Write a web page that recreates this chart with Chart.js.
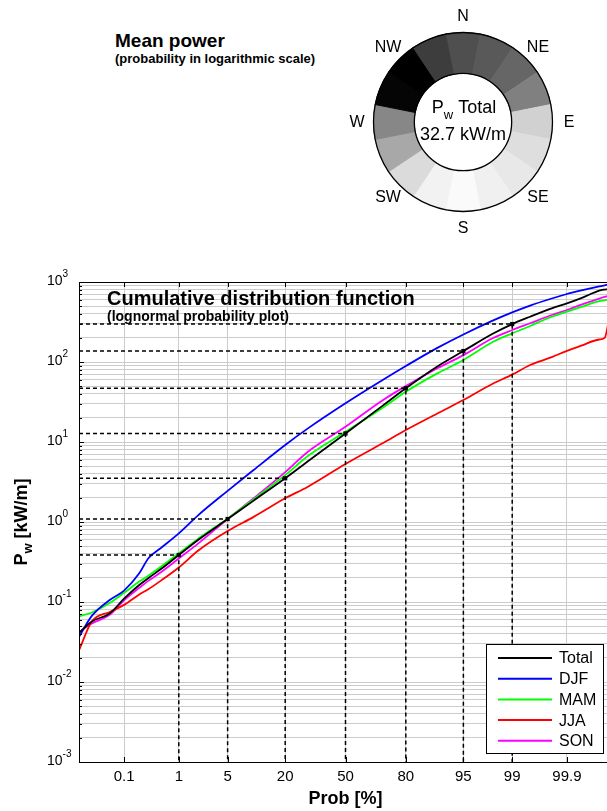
<!DOCTYPE html>
<html>
<head>
<meta charset="utf-8">
<script src="https://cdn.jsdelivr.net/npm/chart.js@4.4.1/dist/chart.umd.min.js"></script>
<style>
  html, body { margin: 0; padding: 0; background: #fff; overflow: hidden; width: 607px; height: 811px; }
  #cdf { position: absolute; left: 0; top: 0; }
  #rose { position: absolute; left: 343px; top: 2px; }
  .head { position: absolute; left: 115px; line-height: 1; font-family: "Liberation Sans", Arial, sans-serif; font-weight: bold; color: #000; white-space: nowrap; }
</style>
</head>
<body>
<div class="head" style="top:31px;font-size:19px">Mean power</div>
<div class="head" style="top:52px;font-size:13px">(probability in logarithmic scale)</div>
<canvas id="cdf" width="616" height="811"></canvas>
<canvas id="rose" width="240" height="240"></canvas>
<script>
// exceedance grid (%) shared by all seasons
const PROB = [0.01, 0.02, 0.05, 0.1, 0.2, 0.3, 0.5, 1, 2, 5, 10, 20, 30, 50, 70, 80, 90, 95, 98, 99, 99.5, 99.8, 99.9, 99.95, 99.98, 99.985, 99.99];

// wave power, kW/m
const TOTAL = [0.041, 0.057, 0.072, 0.11, 0.163, 0.2, 0.258, 0.387, 0.6, 1.09, 1.85, 3.52, 5.74, 12.8, 28.7, 46.9, 88, 137, 225, 298, 368, 468, 540, 628, 780, 805, 830];
const DJF = [0.0365, 0.067, 0.106, 0.139, 0.229, 0.355, 0.473, 0.72, 1.22, 2.45, 4.47, 9.17, 14.8, 30.5, 60, 89, 150, 221, 329, 417, 507, 622, 708, 785, 881, 910, 944];
const MAM = [0.066, 0.074, 0.097, 0.13, 0.18, 0.215, 0.276, 0.406, 0.62, 1.1, 1.93, 3.85, 6.68, 13.4, 27, 42.5, 72, 106, 178, 228, 282, 368, 426, 490, 575, 590, 615];
const JJA = [0.025, 0.057, 0.075, 0.092, 0.124, 0.145, 0.185, 0.27, 0.44, 0.77, 1.16, 1.98, 2.76, 5.3, 9.7, 14.1, 22.7, 33.5, 53.5, 69.5, 91.7, 115, 138, 160, 191, 200, 600];
const SON = [0.042, 0.054, 0.069, 0.105, 0.15, 0.185, 0.235, 0.35, 0.54, 1.09, 1.98, 4.2, 7.57, 15.5, 33.5, 50, 83.5, 122, 198, 251, 305, 387, 447, 520, 620, 650, 690];

// dashed guides on the Total curve
const REF_PROB = [1, 5, 20, 50, 80, 95, 99];
const REF_POWER = [0.387, 1.09, 3.52, 12.8, 46.9, 137, 298];

const PROB_TICKS = [0.1, 1, 5, 20, 50, 80, 95, 99, 99.9];
const POWER_DECADES = [-3, -2, -1, 0, 1, 2, 3];

// rose: 16 sectors, darkness of each (0 white .. 1 black)
const ROSE_SECTORS = ['N', 'NNE', 'NE', 'ENE', 'E', 'ESE', 'SE', 'SSE', 'S', 'SSW', 'SW', 'WSW', 'W', 'WNW', 'NW', 'NNW'];
const ROSE_LEVEL = [0.69, 0.65, 0.6, 0.5, 0.18, 0.13, 0.09, 0.06, 0.02, 0.05, 0.14, 0.34, 0.47, 0.98, 1.0, 0.76];
const ROSE_LABELS = ['N', 'NE', 'E', 'SE', 'S', 'SW', 'W', 'NW'];
const MEAN_POWER = 32.7;

const FONT = '"Liberation Sans", Arial, sans-serif';
Chart.defaults.font.family = FONT;
Chart.defaults.color = '#000';

// inverse normal cdf (Acklam)
function probit(p) {
  const a = [-3.969683028665376e+01, 2.209460984245205e+02, -2.759285104469687e+02, 1.383577518672690e+02, -3.066479806614716e+01, 2.506628277459239e+00];
  const b = [-5.447609879822406e+01, 1.615858368580409e+02, -1.556989798598866e+02, 6.680131188771972e+01, -1.328068155288572e+01];
  const c = [-7.784894002430293e-03, -3.223964580411365e-01, -2.400758277161838e+00, -2.549732539343734e+00, 4.374664141464968e+00, 2.938163982698783e+00];
  const d = [7.784695709041462e-03, 3.224671290700398e-01, 2.445134137142996e+00, 3.754408661907416e+00];
  const lo = 0.02425;
  if (p < lo) {
    const q = Math.sqrt(-2 * Math.log(p));
    return (((((c[0] * q + c[1]) * q + c[2]) * q + c[3]) * q + c[4]) * q + c[5]) / ((((d[0] * q + d[1]) * q + d[2]) * q + d[3]) * q + 1);
  }
  if (p > 1 - lo) {
    const q = Math.sqrt(-2 * Math.log(1 - p));
    return -(((((c[0] * q + c[1]) * q + c[2]) * q + c[3]) * q + c[4]) * q + c[5]) / ((((d[0] * q + d[1]) * q + d[2]) * q + d[3]) * q + 1);
  }
  const q = p - 0.5, r = q * q;
  return (((((a[0] * r + a[1]) * r + a[2]) * r + a[3]) * r + a[4]) * r + a[5]) * q / (((((b[0] * r + b[1]) * r + b[2]) * r + b[3]) * r + b[4]) * r + 1);
}

function normCdf(z) {
  const t = 1 / (1 + 0.3275911 * Math.abs(z) / Math.SQRT2);
  const y = 1 - (((((1.061405429 * t - 1.453152027) * t) + 1.421413741) * t - 0.284496736) * t + 0.254829592) * t * Math.exp(-z * z / 2);
  return z >= 0 ? (1 + y) / 2 : (1 - y) / 2;
}

// normal probability axis, values in percent
class ProbitScale extends Chart.LinearScale {
  determineDataLimits() {
    this.min = this.options.min;
    this.max = this.options.max;
  }
  buildTicks() {
    return PROB_TICKS.map(value => ({ value }));
  }
  configure() {
    super.configure();
    this._zStart = probit(this.min / 100);
    this._zRange = probit(this.max / 100) - this._zStart;
  }
  getPixelForValue(value) {
    return this.getPixelForDecimal((probit(value / 100) - this._zStart) / this._zRange);
  }
  getValueForPixel(pixel) {
    return 100 * normCdf(this._zStart + this.getDecimalForPixel(pixel) * this._zRange);
  }
}
ProbitScale.id = 'probit';
Chart.register(ProbitScale);

const series = [
  { label: 'Total', values: TOTAL, color: '#000000' },
  { label: 'DJF', values: DJF, color: '#0000ff' },
  { label: 'MAM', values: MAM, color: '#00ff00' },
  { label: 'JJA', values: JJA, color: '#ff0000' },
  { label: 'SON', values: SON, color: '#ff00ff' }
];

const yTicks = [];
for (let e = -3; e < 3; e++) {
  for (let k = 1; k <= 9; k++) yTicks.push({ value: k * Math.pow(10, e), major: k === 1 });
}
yTicks.push({ value: 1000, major: true });

const datasets = [];
datasets.push({
  label: 'ref points',
  data: REF_PROB.map((p, i) => ({ x: p, y: REF_POWER[i] })),
  showLine: false,
  pointStyle: 'rect',
  pointRadius: 3,
  pointBorderWidth: 0,
  pointBackgroundColor: '#000'
});
REF_PROB.forEach((p, i) => {
  datasets.push({
    label: 'ref ' + p,
    data: [{ x: PROB[0], y: REF_POWER[i] }, { x: p, y: REF_POWER[i] }, { x: p, y: 0.001 }],
    borderColor: '#000',
    borderWidth: 1.5,
    borderDash: [4, 3],
    pointRadius: 0
  });
});
series.forEach(s => {
  datasets.push({
    label: s.label,
    data: s.values.map((v, i) => ({ x: PROB[i], y: v })),
    borderColor: s.color,
    borderWidth: 1.8,
    cubicInterpolationMode: 'monotone',
    pointRadius: 0
  });
});

function drawSubscripted(ctx, x, y, main, sub, rest, size, subSize, drop, weight) {
  ctx.font = `${weight} ${size}px ${FONT}`;
  const w1 = ctx.measureText(main).width;
  const w3 = ctx.measureText(rest).width;
  ctx.font = `${weight} ${subSize}px ${FONT}`;
  const w2 = ctx.measureText(sub).width;
  let cx = x - (w1 + w2 + w3) / 2;
  ctx.textAlign = 'left';
  ctx.font = `${weight} ${size}px ${FONT}`;
  ctx.fillText(main, cx, y);
  cx += w1;
  ctx.font = `${weight} ${subSize}px ${FONT}`;
  ctx.fillText(sub, cx, y + drop);
  cx += w2;
  ctx.font = `${weight} ${size}px ${FONT}`;
  ctx.fillText(rest, cx, y);
}

const cdfDecor = {
  id: 'cdfDecor',
  afterDraw(chart) {
    const { ctx, chartArea: a, scales: { x, y } } = chart;
    ctx.save();
    ctx.strokeStyle = '#000';
    ctx.lineWidth = 1;
    ctx.strokeRect(Math.round(a.left) + 0.5, Math.round(a.top) + 0.5, Math.round(a.right - a.left), Math.round(a.bottom - a.top));

    ctx.beginPath();
    y.ticks.forEach(t => {
      const py = Math.round(y.getPixelForValue(t.value)) + 0.5;
      ctx.moveTo(a.left, py);
      ctx.lineTo(a.left + (t.major ? 5 : 3), py);
    });
    x.ticks.forEach(t => {
      const px = Math.round(x.getPixelForValue(t.value)) + 0.5;
      ctx.moveTo(px, a.bottom);
      ctx.lineTo(px, a.bottom - 5);
      ctx.moveTo(px, a.top);
      ctx.lineTo(px, a.top + 5);
    });
    ctx.stroke();

    // decade labels 10^n
    ctx.fillStyle = '#000';
    ctx.textAlign = 'left';
    ctx.textBaseline = 'middle';
    POWER_DECADES.forEach(e => {
      const py = y.getPixelForValue(Math.pow(10, e));
      ctx.font = `14px ${FONT}`;
      ctx.fillText('10', 47, py - 1);
      const w = ctx.measureText('10').width;
      ctx.font = `10px ${FONT}`;
      ctx.fillText(String(e), 47 + w, py - 8);
    });

    // y axis title
    ctx.save();
    ctx.translate(27, (a.top + a.bottom) / 2);
    ctx.rotate(-Math.PI / 2);
    ctx.textBaseline = 'alphabetic';
    drawSubscripted(ctx, 0, 0, 'P', 'w', ' [kW/m]', 18, 13, 5, 'bold');
    ctx.restore();

    // in-plot title
    ctx.textBaseline = 'alphabetic';
    ctx.textAlign = 'left';
    ctx.font = `bold 20px ${FONT}`;
    ctx.fillText('Cumulative distribution function', 107, 305);
    ctx.font = `bold 14px ${FONT}`;
    ctx.fillText('(lognormal probability plot)', 107, 321);

    // legend
    const lx = 486.5, ly = 644.5, lw = 117, lh = 109;
    ctx.fillStyle = '#fff';
    ctx.fillRect(lx, ly, lw, lh);
    ctx.strokeStyle = '#000';
    ctx.lineWidth = 1;
    ctx.strokeRect(lx, ly, lw, lh);
    ctx.font = `16px ${FONT}`;
    ctx.textBaseline = 'middle';
    series.forEach((s, i) => {
      const cy = 658 + i * 20.7;
      ctx.strokeStyle = s.color;
      ctx.lineWidth = 2;
      ctx.beginPath();
      ctx.moveTo(498, cy);
      ctx.lineTo(552, cy);
      ctx.stroke();
      ctx.fillStyle = '#000';
      ctx.fillText(s.label, 559, cy + 1);
    });
    ctx.restore();
  }
};

new Chart(document.getElementById('cdf'), {
  type: 'line',
  data: { datasets },
  options: {
    responsive: false,
    animation: false,
    events: [],
    devicePixelRatio: 1,
    layout: { padding: { top: 282, right: 3, left: 0, bottom: 0 } },
    plugins: { legend: { display: false }, tooltip: { enabled: false } },
    scales: {
      x: {
        type: 'probit',
        min: 0.01,
        max: 99.99,
        afterFit: scale => { scale.height = 49; },
        ticks: { autoSkip: false, maxRotation: 0, padding: 6, font: { size: 15 }, callback: v => String(v) },
        grid: { color: '#cccccc', drawTicks: false },
        border: { display: false },
        title: { display: true, text: 'Prob [%]', font: { size: 18, weight: 'bold' }, padding: { top: 0, bottom: 1 } }
      },
      y: {
        type: 'logarithmic',
        min: 0.001,
        max: 1000,
        afterBuildTicks: scale => { scale.ticks = yTicks.map(t => ({ ...t })); },
        afterFit: scale => { scale.width = 79; },
        ticks: { display: false },
        grid: { color: '#cccccc', drawTicks: false },
        border: { display: false }
      }
    }
  },
  plugins: [cdfDecor]
});

function gray(level) {
  const v = Math.round(255 * (1 - level));
  return `rgb(${v},${v},${v})`;
}

const roseDecor = {
  id: 'roseDecor',
  afterDraw(chart) {
    const { ctx } = chart;
    const arc = chart.getDatasetMeta(0).data[0];
    const cx = arc.x, cy = arc.y;
    ctx.save();
    ctx.strokeStyle = '#000';
    ctx.lineWidth = 1.3;
    ctx.beginPath();
    ctx.arc(cx, cy, arc.outerRadius, 0, 2 * Math.PI);
    ctx.stroke();
    ctx.beginPath();
    ctx.arc(cx, cy, arc.innerRadius, 0, 2 * Math.PI);
    ctx.stroke();

    ctx.fillStyle = '#000';
    ctx.textAlign = 'center';
    ctx.textBaseline = 'middle';
    ctx.font = `16px ${FONT}`;
    ROSE_LABELS.forEach((lab, k) => {
      const ang = k * Math.PI / 4;
      ctx.fillText(lab, cx + 106 * Math.sin(ang), cy - 106 * Math.cos(ang) + 1);
    });

    ctx.textBaseline = 'alphabetic';
    drawSubscripted(ctx, cx + 1, cy - 9, 'P', 'w', ' Total', 18, 13, 6, 'normal');
    ctx.textAlign = 'center';
    ctx.font = `18px ${FONT}`;
    ctx.fillText(`${MEAN_POWER} kW/m`, cx, cy + 18);
    ctx.restore();
  }
};

new Chart(document.getElementById('rose'), {
  type: 'doughnut',
  data: {
    labels: ROSE_SECTORS,
    datasets: [{
      data: ROSE_SECTORS.map(() => 1),
      backgroundColor: ROSE_LEVEL.map(gray),
      borderColor: ROSE_LEVEL.map(gray),
      borderWidth: 1
    }]
  },
  options: {
    responsive: false,
    animation: false,
    events: [],
    devicePixelRatio: 1,
    rotation: -11.25,
    cutout: '54.4%',
    layout: { padding: 30 },
    plugins: { legend: { display: false }, tooltip: { enabled: false } }
  },
  plugins: [roseDecor]
});
</script>
</body>
</html>
